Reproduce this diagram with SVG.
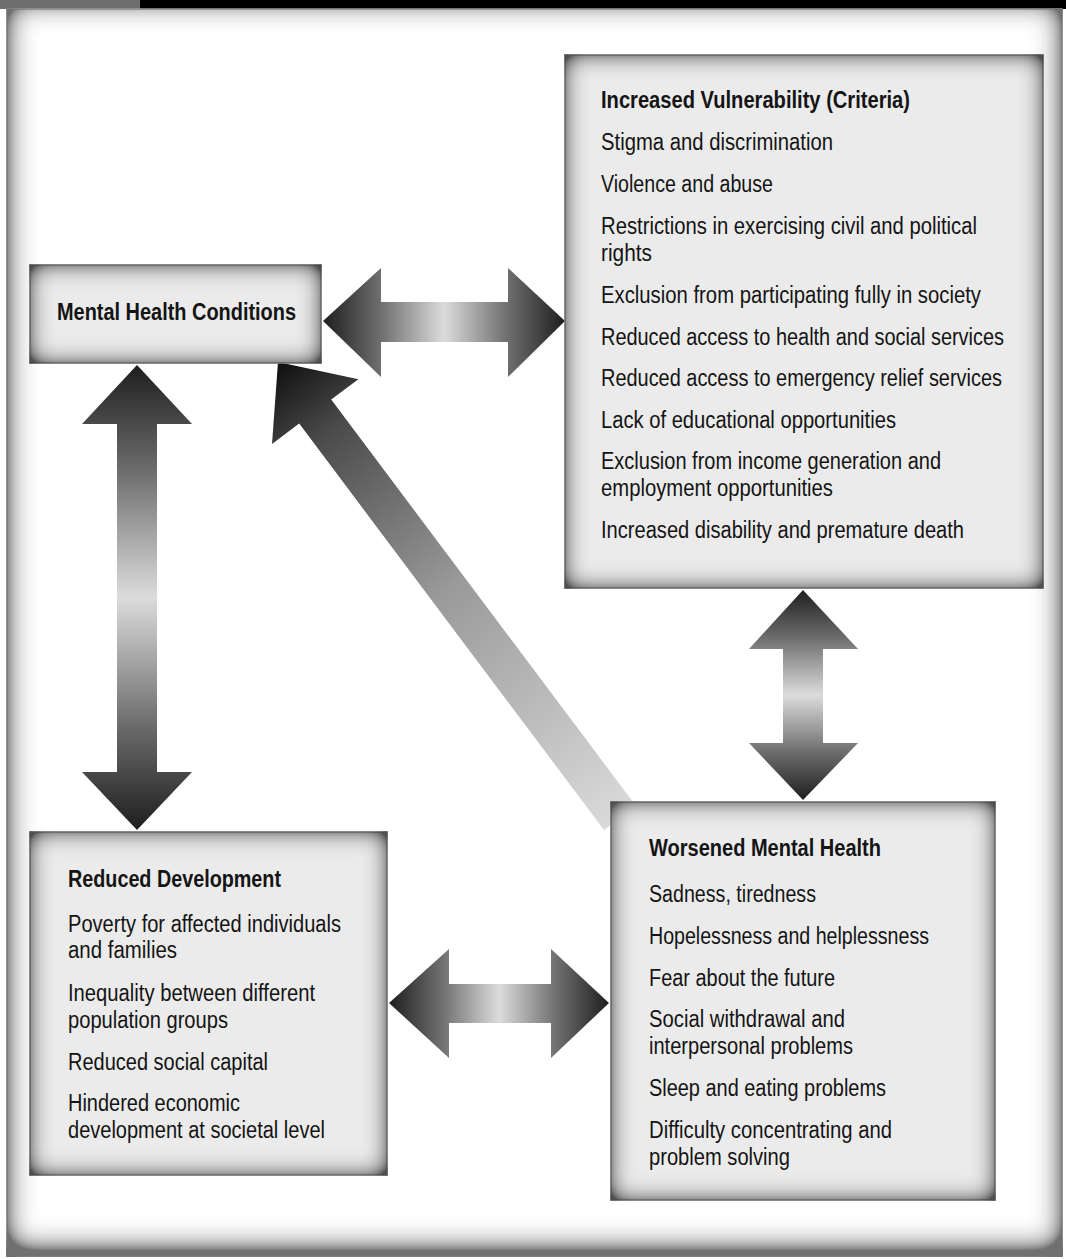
<svg xmlns="http://www.w3.org/2000/svg" width="1066" height="1259" viewBox="0 0 1066 1259">
  <style>
    .t { font-family: "Liberation Sans", Arial, sans-serif; font-size: 23px; fill: #141414; }
    .b { font-weight: bold; }
    .box { fill: #ebebeb; stroke: #8f8f8f; stroke-width: 1.5; filter: url(#inset); }
  </style>
  <defs>
    <filter id="inset" x="-0.2" y="-0.4" width="1.4" height="1.8">
      <feGaussianBlur in="SourceAlpha" stdDeviation="12" result="b"/>
      <feComposite in="SourceAlpha" in2="b" operator="arithmetic" k1="0" k2="1.6" k3="-1.6" k4="0" result="edge"/>
      <feFlood flood-color="#505050" result="c"/>
      <feComposite in="c" in2="edge" operator="in" result="sh"/>
      <feMerge><feMergeNode in="SourceGraphic"/><feMergeNode in="sh"/></feMerge>
    </filter>
    <filter id="frameInset" x="-0.1" y="-0.1" width="1.2" height="1.2">
      <feGaussianBlur in="SourceAlpha" stdDeviation="15" result="b"/>
      <feOffset in="b" dx="0" dy="-7" result="bo"/>
      <feComposite in="SourceAlpha" in2="bo" operator="arithmetic" k1="0" k2="1.9" k3="-1.9" k4="0" result="edge"/>
      <feFlood flood-color="#707070" result="c"/>
      <feComposite in="c" in2="edge" operator="in" result="sh"/>
      <feMerge><feMergeNode in="SourceGraphic"/><feMergeNode in="sh"/></feMerge>
    </filter>
    <linearGradient id="gh" x1="0" y1="0" x2="1" y2="0">
      <stop offset="0" stop-color="#1e1e1e"/>
      <stop offset="0.25" stop-color="#737373"/>
      <stop offset="0.5" stop-color="#dcdcdc"/>
      <stop offset="0.75" stop-color="#737373"/>
      <stop offset="1" stop-color="#1e1e1e"/>
    </linearGradient>
    <linearGradient id="gv" x1="0" y1="0" x2="0" y2="1">
      <stop offset="0" stop-color="#1e1e1e"/>
      <stop offset="0.22" stop-color="#6a6a6a"/>
      <stop offset="0.5" stop-color="#dcdcdc"/>
      <stop offset="0.78" stop-color="#6a6a6a"/>
      <stop offset="1" stop-color="#1e1e1e"/>
    </linearGradient>
    <linearGradient id="gd" gradientUnits="userSpaceOnUse" x1="278" y1="362" x2="620" y2="818">
      <stop offset="0" stop-color="#0e0e0e"/>
      <stop offset="0.15" stop-color="#4a4a4a"/>
      <stop offset="0.5" stop-color="#9a9a9a"/>
      <stop offset="1" stop-color="#dadada"/>
    </linearGradient>
  </defs>

  <rect x="0" y="0" width="1066" height="1259" fill="#ffffff"/>
  <!-- top bar -->
  <rect x="0" y="0" width="1066" height="9" fill="#000000"/>
  <rect x="0" y="0" width="140" height="9" fill="#6e6e6e"/>
  <!-- outer frame -->
  <rect x="7" y="9" width="1055" height="1247" fill="#ffffff" stroke="#a0a0a0" stroke-width="1.5" filter="url(#frameInset)"/>

  <g id="connectors">
    <polygon id="arrow-diag" fill="url(#gd)" points="278,362 358.4,379.2 331.2,399.6 636,806 604,830 299.2,423.6 272,444"/>
    <polygon id="arrow-top" fill="url(#gh)" points="323,321 381,268 381,302 508,302 508,268 565,321 508,377 508,342 381,342 381,377"/>
    <polygon id="arrow-left" fill="url(#gv)" points="137,365 192,424 157,424 157,772 192,772 137,830 82,772 117,772 117,424 82,424"/>
    <polygon id="arrow-right" fill="url(#gv)" points="803,590 858,649 823,649 823,743 858,743 803,800 749,743 783,743 783,649 749,649"/>
    <polygon id="arrow-bottom" fill="url(#gh)" points="389,1003 449,949 449,984 551,984 551,949 609,1003 551,1058 551,1023 449,1023 449,1058"/>
  </g>

  <g id="node-vulnerability">
    <rect class="box" x="565" y="55" width="478" height="533"/>
    <text class="t b" x="601" y="108" textLength="309" lengthAdjust="spacingAndGlyphs">Increased Vulnerability (Criteria)</text>
    <text class="t" x="601" y="150" textLength="232" lengthAdjust="spacingAndGlyphs">Stigma and discrimination</text>
    <text class="t" x="601" y="192" textLength="172" lengthAdjust="spacingAndGlyphs">Violence and abuse</text>
    <text class="t" x="601" y="234" textLength="376" lengthAdjust="spacingAndGlyphs">Restrictions in exercising civil and political</text>
    <text class="t" x="601" y="261" textLength="51" lengthAdjust="spacingAndGlyphs">rights</text>
    <text class="t" x="601" y="303" textLength="380" lengthAdjust="spacingAndGlyphs">Exclusion from participating fully in society</text>
    <text class="t" x="601" y="345" textLength="403" lengthAdjust="spacingAndGlyphs">Reduced access to health and social services</text>
    <text class="t" x="601" y="386" textLength="401" lengthAdjust="spacingAndGlyphs">Reduced access to emergency relief services</text>
    <text class="t" x="601" y="428" textLength="295" lengthAdjust="spacingAndGlyphs">Lack of educational opportunities</text>
    <text class="t" x="601" y="469" textLength="340" lengthAdjust="spacingAndGlyphs">Exclusion from income generation and</text>
    <text class="t" x="601" y="496" textLength="232" lengthAdjust="spacingAndGlyphs">employment opportunities</text>
    <text class="t" x="601" y="538" textLength="363" lengthAdjust="spacingAndGlyphs">Increased disability and premature death</text>
  </g>

  <g id="node-mental-health-conditions">
    <rect class="box" x="30" y="265" width="291" height="98"/>
    <text class="t b" x="57" y="320" textLength="239" lengthAdjust="spacingAndGlyphs">Mental Health Conditions</text>
  </g>

  <g id="node-reduced-development">
    <rect class="box" x="30" y="832" width="357" height="343"/>
    <text class="t b" x="68" y="887" textLength="213" lengthAdjust="spacingAndGlyphs">Reduced Development</text>
    <text class="t" x="68" y="932" textLength="273" lengthAdjust="spacingAndGlyphs">Poverty for affected individuals</text>
    <text class="t" x="68" y="958" textLength="109" lengthAdjust="spacingAndGlyphs">and families</text>
    <text class="t" x="68" y="1001" textLength="247" lengthAdjust="spacingAndGlyphs">Inequality between different</text>
    <text class="t" x="68" y="1028" textLength="160" lengthAdjust="spacingAndGlyphs">population groups</text>
    <text class="t" x="68" y="1070" textLength="200" lengthAdjust="spacingAndGlyphs">Reduced social capital</text>
    <text class="t" x="68" y="1111" textLength="172" lengthAdjust="spacingAndGlyphs">Hindered economic</text>
    <text class="t" x="68" y="1138" textLength="257" lengthAdjust="spacingAndGlyphs">development at societal level</text>
  </g>

  <g id="node-worsened-mental-health">
    <rect class="box" x="611" y="802" width="384" height="398"/>
    <text class="t b" x="649" y="856" textLength="232" lengthAdjust="spacingAndGlyphs">Worsened Mental Health</text>
    <text class="t" x="649" y="902" textLength="167" lengthAdjust="spacingAndGlyphs">Sadness, tiredness</text>
    <text class="t" x="649" y="944" textLength="280" lengthAdjust="spacingAndGlyphs">Hopelessness and helplessness</text>
    <text class="t" x="649" y="986" textLength="186" lengthAdjust="spacingAndGlyphs">Fear about the future</text>
    <text class="t" x="649" y="1027" textLength="196" lengthAdjust="spacingAndGlyphs">Social withdrawal and</text>
    <text class="t" x="649" y="1054" textLength="204" lengthAdjust="spacingAndGlyphs">interpersonal problems</text>
    <text class="t" x="649" y="1096" textLength="237" lengthAdjust="spacingAndGlyphs">Sleep and eating problems</text>
    <text class="t" x="649" y="1138" textLength="243" lengthAdjust="spacingAndGlyphs">Difficulty concentrating and</text>
    <text class="t" x="649" y="1165" textLength="141" lengthAdjust="spacingAndGlyphs">problem solving</text>
  </g>
</svg>
